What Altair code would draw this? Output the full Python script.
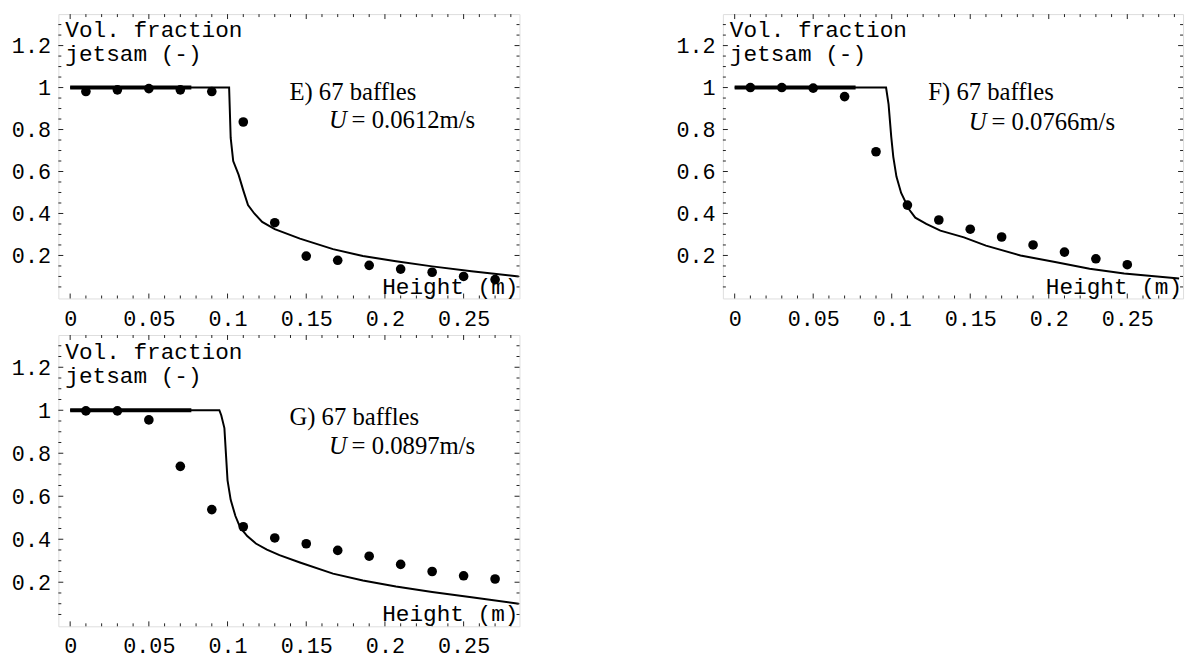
import altair as alt
import pandas as pd

# ---------------- data ----------------
# Panel E (U = 0.0612 m/s)
E_curve_x = [0.0, 0.05, 0.101, 0.102, 0.1036, 0.107, 0.110, 0.113, 0.117, 0.122, 0.130, 0.146, 0.167, 0.186, 0.207, 0.230, 0.255, 0.285]
E_curve_y = [1.0, 1.0, 1.0, 0.76, 0.65, 0.585, 0.51, 0.44, 0.40, 0.36, 0.325, 0.28, 0.23, 0.197, 0.172, 0.148, 0.125, 0.10]
E_pts_x = [0.01, 0.03, 0.05, 0.07, 0.09, 0.11, 0.13, 0.15, 0.17, 0.19, 0.21, 0.23, 0.25, 0.27]
E_pts_y = [0.981, 0.989, 0.995, 0.989, 0.981, 0.836, 0.356, 0.197, 0.177, 0.153, 0.135, 0.12, 0.10, 0.085]

# Panel F (U = 0.0766 m/s)
F_curve_x = [0.0, 0.05, 0.0964, 0.098, 0.0997, 0.101, 0.103, 0.106, 0.111, 0.115, 0.122, 0.131, 0.146, 0.160, 0.182, 0.204, 0.226, 0.248, 0.283]
F_curve_y = [1.0, 1.0, 1.0, 0.92, 0.765, 0.67, 0.576, 0.498, 0.42, 0.38, 0.35, 0.318, 0.286, 0.247, 0.20, 0.169, 0.137, 0.114, 0.09]
F_pts_x = [0.01, 0.03, 0.05, 0.07, 0.09, 0.11, 0.13, 0.15, 0.17, 0.19, 0.21, 0.23, 0.25]
F_pts_y = [1.0, 1.0, 0.997, 0.957, 0.694, 0.44, 0.369, 0.325, 0.288, 0.25, 0.216, 0.184, 0.156]

# Panel G (U = 0.0897 m/s)
G_curve_x = [0.0, 0.05, 0.0948, 0.096, 0.098, 0.099, 0.100, 0.102, 0.105, 0.108, 0.1125, 0.118, 0.125, 0.133, 0.146, 0.167, 0.186, 0.207, 0.230, 0.255, 0.285]
G_curve_y = [1.0, 1.0, 1.0, 0.977, 0.917, 0.795, 0.674, 0.583, 0.508, 0.455, 0.415, 0.38, 0.352, 0.326, 0.292, 0.24, 0.208, 0.18, 0.155, 0.13, 0.10]
G_pts_x = [0.01, 0.03, 0.05, 0.07, 0.09, 0.11, 0.13, 0.15, 0.17, 0.19, 0.21, 0.23, 0.25, 0.27]
G_pts_y = [0.997, 0.997, 0.955, 0.739, 0.538, 0.458, 0.406, 0.379, 0.348, 0.321, 0.283, 0.25, 0.23, 0.215]

# initial (thick) jetsam layer segment
init_x = [0.0, 0.077]
init_y = [1.0, 1.0]

# tick positions
x_major = [0, 0.05, 0.1, 0.15, 0.2, 0.25]
x_minor = [0.01, 0.02, 0.03, 0.04, 0.06, 0.07, 0.08, 0.09, 0.11, 0.12, 0.13, 0.14,
           0.16, 0.17, 0.18, 0.19, 0.21, 0.22, 0.23, 0.24, 0.26, 0.27, 0.28]
y_major = [0.2, 0.4, 0.6, 0.8, 1.0, 1.2]
y_minor = [0.05, 0.1, 0.15, 0.25, 0.3, 0.35, 0.45, 0.5, 0.55, 0.65, 0.7, 0.75,
           0.85, 0.9, 0.95, 1.05, 1.1, 1.15, 1.25, 1.3]

MONO = "Liberation Mono"
SERIF = "Liberation Serif"
XDOM = [-0.0075, 0.2855]
YDOM = [-0.005, 1.35]
FRAME = "#222222"


def panel(cx, cy, px, py, head, uval, W, H, tx, ty, ux, uy, vy):
    xs = alt.Scale(domain=XDOM, nice=False, zero=False)
    ys = alt.Scale(domain=YDOM, nice=False, zero=False)
    xax = alt.Axis(values=x_major, format="~g", ticks=False, tickSize=0, domain=False,
                   grid=False, labelFont=MONO, labelFontSize=22, labelPadding=10,
                   labelColor="black", labelFlush=False, title=None)
    yax = alt.Axis(values=y_major, format="~g", ticks=False, tickSize=0, domain=False,
                   grid=False, labelFont=MONO, labelFontSize=22, labelPadding=8,
                   labelColor="black", labelFlush=False, title=None,
                   labelExpr="datum.value == 1 ? '1\u00a0' : datum.label")
    X = lambda: alt.X("x:Q", scale=xs, axis=xax)
    Y = lambda: alt.Y("y:Q", scale=ys, axis=yax)

    curve = pd.DataFrame({"x": cx, "y": cy})
    pts = pd.DataFrame({"x": px, "y": py})
    init = pd.DataFrame({"x": init_x, "y": init_y})

    layers = []
    layers.append(alt.Chart(curve).mark_line(color="black", strokeWidth=2).encode(x=X(), y=Y()))
    layers.append(alt.Chart(init).mark_line(color="black", strokeWidth=4).encode(x=X(), y=Y()))
    layers.append(alt.Chart(pts).mark_circle(size=95, color="black", opacity=1).encode(x=X(), y=Y()))

    # inward frame ticks
    for vals, ln in ((x_major, 5), (x_minor, 3)):
        d = pd.DataFrame({"x": vals})
        layers.append(alt.Chart(d).mark_rule(color=FRAME, strokeWidth=1).encode(
            x=X(), y=alt.value(H), y2=alt.value(H - ln)))
        layers.append(alt.Chart(d).mark_rule(color=FRAME, strokeWidth=1).encode(
            x=X(), y=alt.value(0), y2=alt.value(ln)))
    for vals, ln in ((y_major, 5), (y_minor, 3)):
        d = pd.DataFrame({"y": vals})
        layers.append(alt.Chart(d).mark_rule(color=FRAME, strokeWidth=1).encode(
            y=Y(), x=alt.value(0), x2=alt.value(ln)))
        layers.append(alt.Chart(d).mark_rule(color=FRAME, strokeWidth=1).encode(
            y=Y(), x=alt.value(W), x2=alt.value(W - ln)))

    def txt(s, x, y, font, size, align="left", style="normal"):
        return alt.Chart(pd.DataFrame({"t": [s]})).mark_text(
            font=font, fontSize=size, align=align, baseline="alphabetic",
            fontStyle=style, color="black").encode(
            x=alt.value(x), y=alt.value(y), text="t:N")

    layers.append(txt("Vol. fraction", 7, vy, MONO, 23))
    layers.append(txt("jetsam (-)", 7, vy + 25, MONO, 23))
    layers.append(txt("Height (m)", W - 1, H - 5, MONO, 23, align="right"))
    layers.append(txt(head, tx, ty, SERIF, 25))
    layers.append(txt("U", ux, uy, SERIF, 25, style="italic"))
    layers.append(txt("= " + uval, ux + 23, uy, SERIF, 25))

    return alt.layer(*layers).properties(width=W, height=H)


pE = panel(E_curve_x, E_curve_y, E_pts_x, E_pts_y, "E) 67 baffles", "0.0612m/s",
           467, 288, 234, 87, 274, 115, 23)
pF = panel(F_curve_x, F_curve_y, F_pts_x, F_pts_y, "F) 67 baffles", "0.0766m/s",
           466, 288, 208, 87, 249, 117, 23)
pG = panel(G_curve_x, G_curve_y, G_pts_x, G_pts_y, "G) 67 baffles", "0.0897m/s",
           467, 295, 234, 91, 274, 120, 24)

top = alt.hconcat(pE, pF, spacing=153)
chart = alt.vconcat(top, pG, spacing=4).properties(
    padding={"left": 2, "top": 1, "right": 2, "bottom": 2}
).configure_view(stroke=FRAME, strokeWidth=1).configure(background="white")

chart.save("out.html", embed_options={"renderer": "svg", "actions": False})
